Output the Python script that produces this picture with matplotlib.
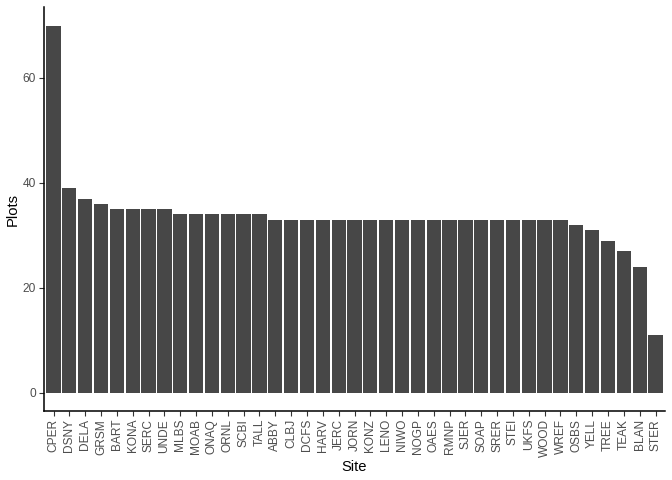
import numpy as np
import matplotlib
matplotlib.use("Agg")
import matplotlib.pyplot as plt

plt.rcParams["font.family"] = ["Liberation Sans", "DejaVu Sans"]

# ── Data ──────────────────────────────────────────────────────────────────────
sites = [
    "CPER", "DSNY", "DELA", "GRSM", "BART", "KONA", "SERC", "UNDE", "MLBS",
    "MOAB", "ONAQ", "ORNL", "SCBI", "TALL", "ABBY", "CLBJ", "DCFS", "HARV",
    "JERC", "JORN", "KONZ", "LENO", "NIWO", "NOGP", "OAES", "RMNP", "SJER",
    "SOAP", "SRER", "STEI", "UKFS", "WOOD", "WREF", "OSBS", "YELL", "TREE",
    "TEAK", "BLAN", "STER",
]
plots = [
    70, 39, 37, 36, 35, 35, 35, 35, 34,
    34, 34, 34, 34, 34, 33, 33, 33, 33,
    33, 33, 33, 33, 33, 33, 33, 33, 33,
    33, 33, 33, 33, 33, 33, 32, 31, 29,
    27, 24, 11,
]
y_ticks = [0, 20, 40, 60]

# ── Plot ──────────────────────────────────────────────────────────────────────
fig = plt.figure(figsize=(6.72, 4.8), dpi=100)
ax = fig.add_axes([0.0655, 0.1438, 0.9241, 0.8412])

x = np.arange(1, len(sites) + 1)
ax.bar(x, plots, width=0.9, color="#474747")

n = len(sites)
ax.set_xlim(0.4, n + 0.6)
ymax = max(plots)
ax.set_ylim(-0.05 * ymax, ymax * 1.05)

ax.set_xticks(x)
ax.set_xticklabels(sites, rotation=90, fontsize=8.6, color="#4D4D4D")
ax.set_yticks(y_ticks)
ax.set_yticklabels([str(t) for t in y_ticks], fontsize=8.6, color="#4D4D4D")
ax.tick_params(axis="both", length=3.7, width=0.8, color="#333333", pad=2)

for side in ["top", "right"]:
    ax.spines[side].set_visible(False)
for side in ["left", "bottom"]:
    ax.spines[side].set_linewidth(1.1)
    ax.spines[side].set_color("black")

ax.set_xlabel("Site", fontsize=10.6, labelpad=2)
ax.set_ylabel("Plots", fontsize=10.6, labelpad=2)

fig.savefig("out.png", dpi=100)
